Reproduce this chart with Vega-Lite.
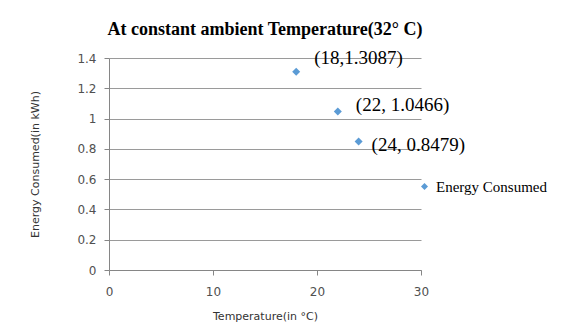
{
  "$schema": "https://vega.github.io/schema/vega-lite/v6.json",
  "autosize": "none",
  "width": 312,
  "height": 212,
  "padding": {"left": 109, "top": 58, "right": 142, "bottom": 60},
  "background": "white",
  "title": {
    "text": "At constant ambient Temperature(32° C)",
    "font": "Liberation Serif",
    "fontSize": 18,
    "fontWeight": "bold",
    "color": "#000000",
    "anchor": "middle",
    "offset": 10
  },
  "data": {
    "values": [
      {"temp": 18, "energy": 1.3087, "label": "(18,1.3087)", "series": "Energy Consumed"},
      {"temp": 22, "energy": 1.0466, "label": "(22, 1.0466)", "series": "Energy Consumed"},
      {"temp": 24, "energy": 0.8479, "label": "(24, 0.8479)", "series": "Energy Consumed"}
    ]
  },
  "config": {
    "view": {"stroke": null},
    "axis": {
      "labelFont": "DejaVu Sans",
      "labelFontSize": 12,
      "labelColor": "#505050",
      "titleFont": "DejaVu Sans",
      "titleFontSize": 11,
      "titleFontWeight": "normal",
      "titleColor": "#333333",
      "domainColor": "#868686",
      "tickColor": "#868686",
      "gridColor": "#9a9a9a",
      "tickSize": 5,
      "labelOverlap": false,
      "labelFlush": false
    }
  },
  "layer": [
    {
      "mark": {"type": "point", "shape": "diamond", "filled": true, "size": 64, "opacity": 1},
      "encoding": {
        "x": {
          "field": "temp", "type": "quantitative",
          "scale": {"domain": [0, 30], "nice": false, "zero": true},
          "axis": {"tickCount": 3, "grid": false, "labelFlush": false, "title": "Temperature(in °C)", "labelPadding": 11, "titlePadding": 13}
        },
        "y": {
          "field": "energy", "type": "quantitative",
          "scale": {"domain": [0, 1.4], "nice": false, "zero": true},
          "axis": {"tickCount": 7, "format": "~g", "grid": true, "title": "Energy Consumed(in kWh)", "labelPadding": 8, "titlePadding": 36}
        },
        "color": {
          "field": "series", "type": "nominal",
          "scale": {"range": ["#5B9BD5"]},
          "legend": {
            "title": null,
            "orient": "none",
            "legendX": 308,
            "legendY": 121,
            "padding": 0,
            "symbolType": "diamond",
            "symbolSize": 49,
            "symbolStrokeWidth": 0,
            "labelFont": "Liberation Serif",
            "labelFontSize": 15,
            "labelColor": "#000000",
            "labelOffset": 4
          }
        }
      }
    },
    {
      "transform": [{"filter": "datum.temp == 18"}],
      "mark": {"type": "text", "font": "Liberation Serif", "fontSize": 19, "align": "left", "baseline": "middle", "dx": 18, "dy": -14, "color": "#000000"},
      "encoding": {
        "x": {"field": "temp", "type": "quantitative"},
        "y": {"field": "energy", "type": "quantitative"},
        "text": {"field": "label"}
      }
    },
    {
      "transform": [{"filter": "datum.temp == 22"}],
      "mark": {"type": "text", "font": "Liberation Serif", "fontSize": 19, "align": "left", "baseline": "middle", "dx": 18, "dy": -7, "color": "#000000"},
      "encoding": {
        "x": {"field": "temp", "type": "quantitative"},
        "y": {"field": "energy", "type": "quantitative"},
        "text": {"field": "label"}
      }
    },
    {
      "transform": [{"filter": "datum.temp == 24"}],
      "mark": {"type": "text", "font": "Liberation Serif", "fontSize": 19, "align": "left", "baseline": "middle", "dx": 13, "dy": 3, "color": "#000000"},
      "encoding": {
        "x": {"field": "temp", "type": "quantitative"},
        "y": {"field": "energy", "type": "quantitative"},
        "text": {"field": "label"}
      }
    }
  ]
}
